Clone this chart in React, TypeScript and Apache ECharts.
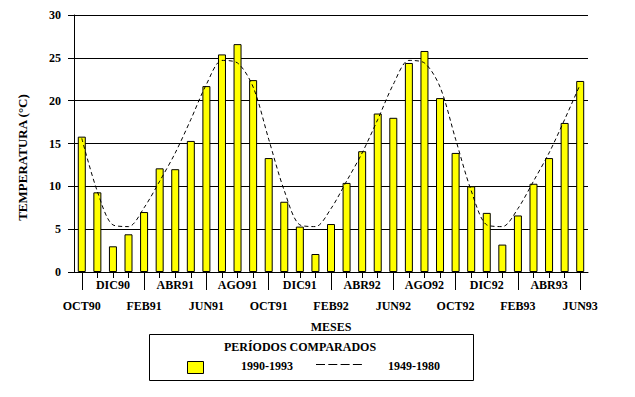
import React, { useEffect, useRef } from "react";
import * as echarts from "echarts";

const months = [
  "OCT90", "NOV90", "DIC90", "ENE91", "FEB91", "MAR91", "ABR91", "MAY91", "JUN91", "JUL91", "AGO91", "SEP91",
  "OCT91", "NOV91", "DIC91", "ENE92", "FEB92", "MAR92", "ABR92", "MAY92", "JUN92", "JUL92", "AGO92", "SEP92",
  "OCT92", "NOV92", "DIC92", "ENE93", "FEB93", "MAR93", "ABR93", "MAY93", "JUN93",
];

const temp1990_1993 = [
  15.8, 9.3, 3.0, 4.4, 7.0, 12.1, 12.0, 15.3, 21.7, 25.4, 26.6, 22.4,
  13.3, 8.2, 5.3, 2.1, 5.6, 10.4, 14.1, 18.5, 18.0, 24.4, 25.8, 20.3,
  13.9, 10.0, 6.9, 3.2, 6.6, 10.3, 13.3, 17.4, 22.3,
];

const temp1949_1980 = [
  15.6, 9.4, 5.5, 5.3, 7.5, 10.6, 13.9, 17.8, 21.9, 24.7, 24.4, 21.6,
  15.5, 9.5, 5.5, 5.3, 7.4, 10.6, 13.9, 17.8, 21.9, 24.7, 24.4, 21.6,
  15.5, 9.5, 5.5, 5.3, 7.4, 10.6, 13.9, 17.8, 21.9,
];

const yTicks = { min: 0, max: 30, interval: 5 };

const FONT = "Liberation Serif";

export default function App() {
  const ref = useRef<HTMLDivElement>(null);
  useEffect(() => {
    document.body.style.margin = "0";
    if (!ref.current) return;
    const chart = echarts.init(ref.current, undefined, { renderer: "svg" });
    const txt = { fontFamily: FONT, fontWeight: "bold" as const, fontSize: 12, color: "#000" };
    chart.setOption({
      animation: false,
      backgroundColor: "#fff",
      textStyle: { fontFamily: FONT },
      grid: { left: 74, right: 47, top: 15, bottom: 125, containLabel: false },
      xAxis: [
        {
          type: "category",
          data: months,
          boundaryGap: true,
          position: "bottom",
          axisLine: { show: true, lineStyle: { color: "#000", width: 1 } },
          axisTick: { show: true, interval: 0, alignWithLabel: true, length: 6, lineStyle: { color: "#000" } },
          axisLabel: {
            interval: 0,
            margin: 2,
            ...txt,
            lineHeight: 21,
            formatter: (v: string, i: number) => {
              if (i % 4 === 0) return "\n" + v;
              if (i % 4 === 2) return v;
              return "";
            },
          },
          name: "MESES",
          nameLocation: "middle",
          nameGap: 46,
          nameTextStyle: { ...txt },
          splitLine: { show: false },
        },
        {
          type: "category",
          data: months,
          boundaryGap: true,
          position: "bottom",
          axisLine: { show: false },
          axisTick: { show: true, interval: 3, alignWithLabel: true, length: 18, lineStyle: { color: "#000" } },
          axisLabel: { show: false },
          splitLine: { show: false },
        },
      ],
      yAxis: {
        type: "value",
        min: yTicks.min,
        max: yTicks.max,
        interval: yTicks.interval,
        axisLine: { show: true, lineStyle: { color: "#000", width: 1 } },
        axisTick: { show: true, length: 6, lineStyle: { color: "#000" } },
        axisLabel: { margin: 13, ...txt },
        splitLine: { show: true, lineStyle: { color: "#000", width: 1 } },
        name: "TEMPERATURA (°C)",
        nameLocation: "middle",
        nameRotate: 90,
        nameGap: 45,
        nameTextStyle: { ...txt, fontSize: 13, padding: [0, 28, 0, 0] },
      },
      series: [
        {
          name: "1990-1993",
          type: "bar",
          data: temp1990_1993,
          barWidth: 8,
          xAxisIndex: 0,
          itemStyle: { color: "#FFFF00", borderColor: "#000", borderWidth: 1 },
        },
        {
          name: "1949-1980",
          type: "line",
          data: temp1949_1980,
          xAxisIndex: 0,
          smooth: 0.3,
          symbol: "none",
          lineStyle: { color: "#000", width: 1, type: [4, 3] },
          z: 5,
        },
      ],
      graphic: [
        {
          type: "rect",
          shape: { x: 149.5, y: 334.5, width: 324, height: 46 },
          style: { fill: "#fff", stroke: "#000", lineWidth: 1 },
        },
        {
          type: "text",
          x: 300,
          y: 347,
          style: { text: "PERÍODOS COMPARADOS", align: "center", verticalAlign: "middle", fontFamily: FONT, fontWeight: "bold", fontSize: 12, fill: "#000" },
        },
        {
          type: "rect",
          shape: { x: 187.5, y: 361.5, width: 16, height: 12 },
          style: { fill: "#FFFF00", stroke: "#000", lineWidth: 1 },
        },
        {
          type: "text",
          x: 241,
          y: 366,
          style: { text: "1990-1993", align: "left", verticalAlign: "middle", fontFamily: FONT, fontWeight: "bold", fontSize: 12, fill: "#000" },
        },
        {
          type: "line",
          shape: { x1: 316, y1: 364.5, x2: 362, y2: 364.5 },
          style: { stroke: "#000", lineWidth: 1, lineDash: [9, 3.3] },
        },
        {
          type: "text",
          x: 388,
          y: 366,
          style: { text: "1949-1980", align: "left", verticalAlign: "middle", fontFamily: FONT, fontWeight: "bold", fontSize: 12, fill: "#000" },
        },
      ],
    });
    return () => chart.dispose();
  }, []);
  return <div ref={ref} style={{ width: 635, height: 397 }} />;
}
